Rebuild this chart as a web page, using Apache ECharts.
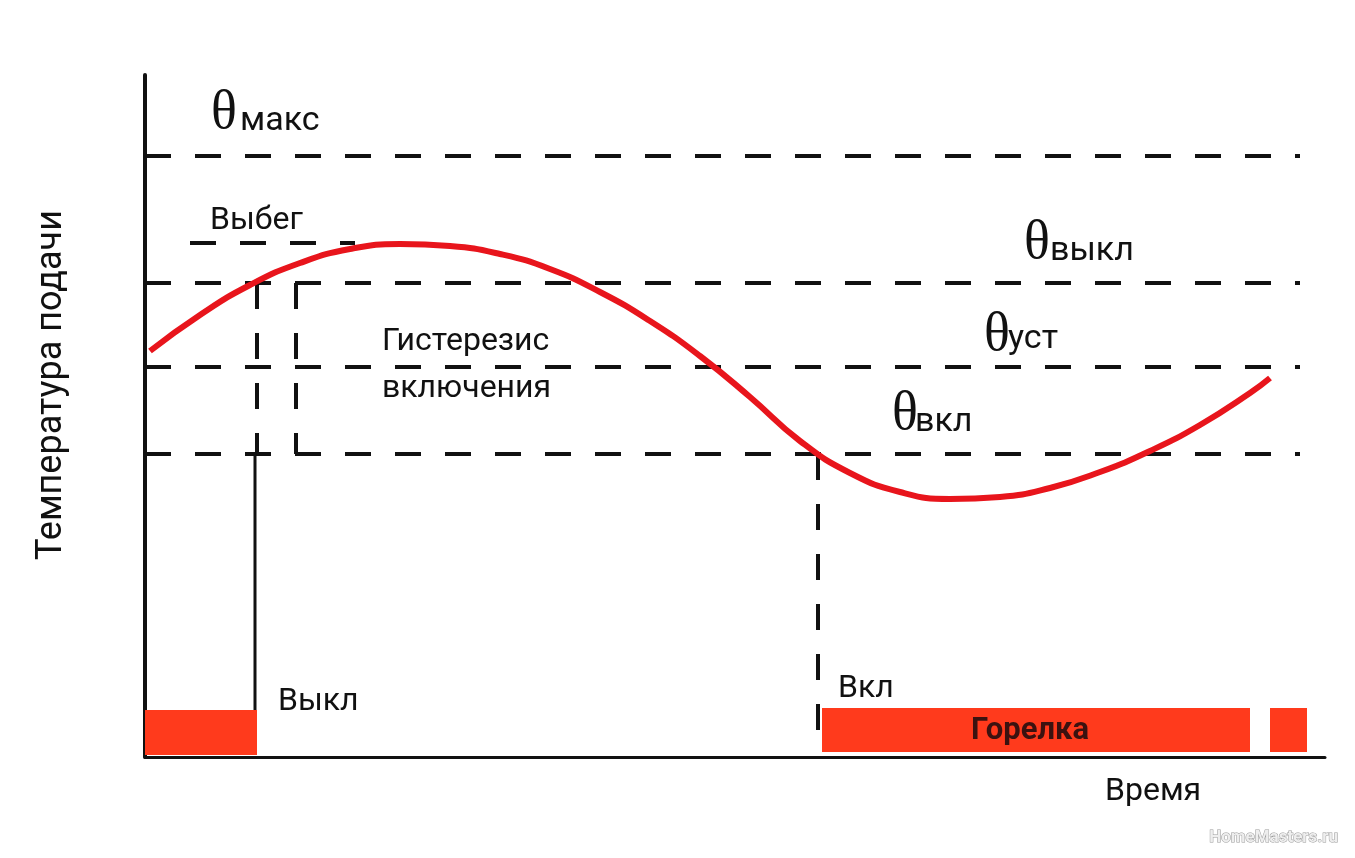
<!DOCTYPE html>
<html>
<head>
<meta charset="utf-8">
<script src="https://cdn.jsdelivr.net/npm/echarts@6/dist/echarts.min.js"></script>
<style>
html,body{margin:0;padding:0;background:#fff;}
#chart{width:1355px;height:858px;}
</style>
</head>
<body>
<div id="chart"></div>
<script>
// ---- data ----
const xRange = [0, 118];
const yRange = [0, 68.2];
const curveX = [0.5, 5.5, 10.5, 15.5, 20.5, 25.5, 30.5, 35.5, 40.5, 45.5, 50.5, 55.5, 60.5, 65.5, 70.5, 75.5, 80.5, 85.5, 90.5, 95.5, 100.5, 105.5, 110.5, 112.5];
const curveY = [40.6, 44.2, 47.2, 49.4, 50.8, 51.3, 51.1, 50.3, 48.8, 46.5, 43.6, 40.1, 36.0, 31.6, 28.4, 26.5, 25.8, 26.0, 26.9, 28.5, 30.6, 33.2, 36.4, 37.9];
const levelNames = ['θмакс', 'θвыкл', 'θуст', 'θвкл'];
const levelValues = [60.1, 47.4, 39.0, 30.3];
const levelStart = 0;
const levelEnd = 115.5;
const overrunLevel = 51.4;          // Выбег
const overrunRange = [4.5, 21];
const switchOffX = [11.2, 15.1];    // vertical dashed marks (hysteresis)
const switchOnX = 67.3;
const burnerOnBottom = 1.7;
const offLineX = 11.0;
const offLineBottom = 4.7;
const barStart = [0, 67.7, 112.5];
const barEnd = [11.2, 110.5, 116.2];
const barLow = [0.2, 0.5, 0.5];
const barHigh = [4.7, 4.9, 4.9];

// ---- build ----
const dashStyle = {color: '#111', width: 4, type: [26, 24]};
const series = [];
levelValues.forEach((v, i) => {
  series.push({
    name: levelNames[i], type: 'line', silent: true, symbol: 'none',
    lineStyle: dashStyle, data: [[levelStart, v], [levelEnd, v]], z: 2
  });
});
series.push({type: 'line', silent: true, symbol: 'none', lineStyle: dashStyle,
  data: [[overrunRange[0], overrunLevel], [overrunRange[1], overrunLevel]], z: 2});
switchOffX.forEach(x => {
  series.push({type: 'line', silent: true, symbol: 'none', lineStyle: dashStyle,
    data: [[x, levelValues[1]], [x, levelValues[3]]], z: 2});
});
series.push({type: 'line', silent: true, symbol: 'none', lineStyle: dashStyle,
  data: [[switchOnX, levelValues[3]], [switchOnX, burnerOnBottom]], z: 2});
series.push({type: 'line', silent: true, symbol: 'none', lineStyle: {color: '#111', width: 3},
  data: [[offLineX, levelValues[3]], [offLineX, offLineBottom]], z: 2});
series.push({
  type: 'custom', silent: true, z: 3,
  renderItem: function (params, api) {
    const p0 = api.coord([api.value(0), api.value(3)]);
    const p1 = api.coord([api.value(1), api.value(2)]);
    return {type: 'rect', shape: {x: p0[0], y: p0[1], width: p1[0] - p0[0], height: p1[1] - p0[1]},
      style: {fill: '#ff3a1c'}};
  },
  data: barStart.map((s, i) => [s, barEnd[i], barLow[i], barHigh[i]])
});
series.push({
  name: 'Температура подачи', type: 'line', silent: true, symbol: 'none', smooth: true, z: 5,
  lineStyle: {color: '#e8151c', width: 6, cap: 'butt'},
  data: curveX.map((x, i) => [x, curveY[i]])
});

const sans = 'Roboto, "Liberation Sans", sans-serif';
const serif = '"Liberation Serif", "DejaVu Serif", serif';
function t(text, x, y, size, opts) {
  opts = opts || {};
  return {type: 'text', x: x, y: y, z: 10, rotation: opts.rot || 0, silent: true,
    style: {text: text, font: (opts.weight || 'normal') + ' ' + size + 'px ' + (opts.family || sans),
      fill: opts.fill || '#111', align: opts.align || 'left', verticalAlign: 'middle',
      stroke: opts.stroke, lineWidth: opts.lw || 0}};
}
const graphics = [
  t('θ', 211, 114, 54, {family: serif}), t('макс', 240, 121, 34),
  t('θ', 1024, 244, 54, {family: serif}), t('выкл', 1050, 251, 34),
  t('θ', 984, 336, 54, {family: serif}), t('уст', 1008, 339, 34),
  t('θ', 892, 415, 54, {family: serif}), t('вкл', 915, 422, 34),
  t('Выбег', 210, 221, 32),
  t('Гистерезис', 382, 342, 32),
  t('включения', 382, 389, 32),
  t('Выкл', 278, 702, 32),
  t('Вкл', 838, 689, 32),
  t('Время', 1105, 792, 32),
  t('Горелка', 1030, 731, 31, {weight: 'bold', fill: '#3b1210', align: 'center'}),
  t('Температура подачи', 52, 385, 36, {rot: Math.PI / 2, align: 'center'}),
  t('HomeMasters.ru', 1338, 838, 17, {weight: 'bold', fill: '#eeeeee', stroke: '#9a9a9a', lw: 1, align: 'right'})
];

const chart = echarts.init(document.getElementById('chart'));
chart.setOption({
  backgroundColor: '#fff',
  animation: false,
  grid: {left: 145, right: 30, top: 75, bottom: 101},
  xAxis: {type: 'value', min: xRange[0], max: xRange[1],
    axisLine: {show: true, onZero: false, lineStyle: {color: '#111', width: 3}},
    axisTick: {show: false}, axisLabel: {show: false}, splitLine: {show: false}},
  yAxis: {type: 'value', min: yRange[0], max: yRange[1],
    axisLine: {show: true, lineStyle: {color: '#111', width: 4}},
    axisTick: {show: false}, axisLabel: {show: false}, splitLine: {show: false}},
  series: series,
  graphic: graphics
});
</script>
</body>
</html>
